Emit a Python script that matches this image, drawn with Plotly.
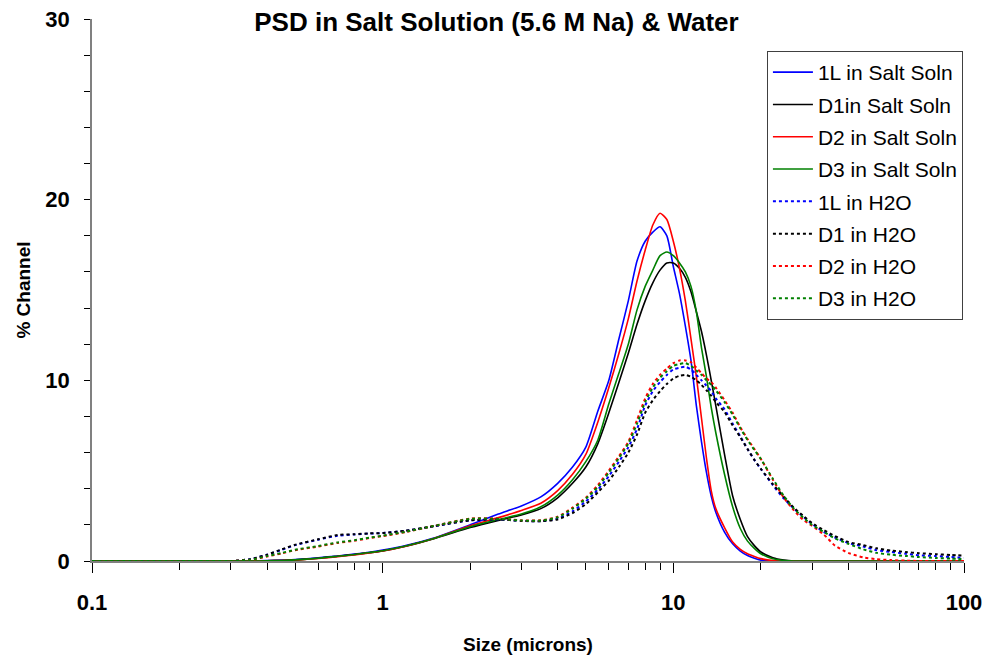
import plotly.graph_objects as go

sizes = [0.1, 0.2, 0.3, 0.35, 0.4, 0.45, 0.5, 0.6, 0.7, 0.8, 0.9, 1.0, 1.2, 1.5, 2.0, 2.5, 3.0, 3.5,
         4.0, 4.5, 5.0, 5.5, 6.0, 6.5, 7.0, 7.5, 8.0, 8.5, 9.0, 9.5, 10, 10.5, 11, 11.5, 12, 12.5,
         13, 13.5, 14, 15, 16, 17, 18, 19, 20, 22, 24, 26, 28, 30, 33, 36, 40, 45, 50, 56, 63, 70,
         80, 90, 100]

salt_1L = [0, 0, 0, 0, 0.02, 0.05, 0.08, 0.18, 0.28, 0.38, 0.48, 0.6, 0.85, 1.27, 2.0, 2.6, 3.05, 3.55,
           4.3, 5.2, 6.3, 8.3, 10.0, 12.3, 14.4, 16.6, 17.7, 18.2, 18.5, 18.0, 16.3, 14.8, 13.0, 11.1, 8.6, 6.6,
           4.9, 3.6, 2.7, 1.6, 0.95, 0.55, 0.3, 0.15, 0.05, 0.01, 0, 0, 0, 0, 0, 0, 0, 0, 0, 0, 0, 0,
           0, 0, 0]
salt_D1 = [0, 0, 0, 0, 0.01, 0.03, 0.06, 0.15, 0.26, 0.36, 0.46, 0.56, 0.82, 1.23, 1.85, 2.25, 2.55, 2.9,
           3.5, 4.3, 5.2, 6.5, 8.2, 9.9, 11.5, 13.1, 14.4, 15.4, 16.1, 16.5, 16.5, 16.2, 15.7, 14.9, 13.8, 12.7,
           11.4, 10.0, 8.6, 5.9, 3.6, 2.3, 1.35, 0.85, 0.5, 0.18, 0.05, 0, 0, 0, 0, 0, 0, 0, 0, 0, 0, 0,
           0, 0, 0]
salt_D2 = [0, 0, 0, 0, 0.01, 0.03, 0.05, 0.14, 0.24, 0.34, 0.45, 0.55, 0.82, 1.25, 1.95, 2.4, 2.8, 3.2,
           3.9, 4.8, 5.9, 7.7, 9.6, 11.5, 13.4, 15.5, 17.2, 18.6, 19.25, 18.9, 17.7, 16.2, 14.4, 12.3, 10.2, 7.9,
           5.7, 3.9, 2.9, 1.85, 1.05, 0.65, 0.4, 0.25, 0.13, 0.02, 0, 0, 0, 0, 0, 0, 0, 0, 0, 0, 0, 0,
           0, 0, 0]
salt_D3 = [0, 0, 0, 0, 0.01, 0.03, 0.06, 0.15, 0.26, 0.36, 0.47, 0.57, 0.83, 1.25, 1.9, 2.3, 2.6, 3.0,
           3.65, 4.5, 5.5, 6.7, 8.7, 10.4, 12.0, 13.9, 15.2, 16.1, 16.9, 17.1, 16.9, 16.5, 16.0, 15.2, 13.8, 11.8,
           10.2, 8.5, 7.1, 4.8, 3.0, 1.8, 1.1, 0.7, 0.4, 0.12, 0.03, 0, 0, 0, 0, 0, 0, 0, 0, 0, 0, 0,
           0, 0, 0]

h2o_1L = [0, 0, 0, 0.1, 0.35, 0.62, 0.88, 1.18, 1.4, 1.47, 1.52, 1.55, 1.67, 1.92, 2.25, 2.3, 2.22, 2.2,
          2.35, 2.75, 3.3, 3.95, 4.7, 5.5, 6.3, 7.3, 8.6, 9.4, 9.9, 10.3, 10.6, 10.7, 10.75, 10.6, 10.3, 10.0,
          9.7, 9.4, 9.0, 8.4, 7.6, 6.9, 6.2, 5.6, 5.1, 4.2, 3.45, 2.9, 2.45, 2.05, 1.6, 1.3, 1.0, 0.8, 0.6, 0.5,
          0.4, 0.32, 0.27, 0.22, 0.18]
h2o_D1 = [0, 0, 0, 0.1, 0.35, 0.65, 0.9, 1.2, 1.44, 1.48, 1.53, 1.55, 1.68, 1.93, 2.25, 2.3, 2.22, 2.2,
          2.3, 2.65, 3.15, 3.8, 4.45, 5.2, 6.0, 7.0, 8.2, 8.9, 9.4, 9.8, 10.1, 10.25, 10.3, 10.2, 10.0, 9.75,
          9.45, 9.15, 8.8, 8.25, 7.5, 6.85, 6.2, 5.6, 5.1, 4.25, 3.55, 2.95, 2.5, 2.1, 1.7, 1.38, 1.05, 0.88, 0.7,
          0.58, 0.5, 0.43, 0.38, 0.33, 0.3]
h2o_D2 = [0, 0, 0, 0.05, 0.25, 0.42, 0.6, 0.8, 1.0, 1.12, 1.27, 1.38, 1.6, 1.94, 2.35, 2.35, 2.25, 2.25,
          2.45, 2.95, 3.5, 4.2, 5.0, 5.8, 6.6, 7.8, 9.0, 9.8, 10.3, 10.65, 10.95, 11.1, 11.1, 11.0, 10.7, 10.4,
          10.1, 9.9, 9.6, 8.9, 8.2, 7.4, 6.75, 6.2, 5.65, 4.5, 3.5, 2.8, 2.27, 1.95, 1.45, 0.85, 0.45, 0.2, 0.1,
          0.05, 0.02, 0, 0, 0, 0]
h2o_D3 = [0, 0, 0, 0.06, 0.27, 0.45, 0.62, 0.83, 1.03, 1.15, 1.29, 1.4, 1.62, 1.94, 2.33, 2.33, 2.24, 2.24,
          2.42, 2.9, 3.45, 4.1, 4.9, 5.7, 6.5, 7.6, 8.8, 9.6, 10.15, 10.5, 10.8, 10.9, 10.95, 10.8, 10.55, 10.3,
          10.0, 9.75, 9.45, 8.8, 8.1, 7.35, 6.7, 6.15, 5.65, 4.55, 3.6, 2.9, 2.4, 2.0, 1.6, 1.25, 0.95, 0.65, 0.45,
          0.35, 0.28, 0.22, 0.17, 0.13, 0.1]

series = [
    ("1L in Salt Soln", salt_1L, "#0000FF", "solid", 1.6),
    ("D1in Salt Soln", salt_D1, "#000000", "solid", 1.6),
    ("D2 in Salt Soln", salt_D2, "#FF0000", "solid", 1.6),
    ("D3 in Salt Soln", salt_D3, "#008000", "solid", 1.6),
    ("1L in H2O", h2o_1L, "#0000FF", "dot", 2),
    ("D1 in H2O", h2o_D1, "#000000", "dot", 2),
    ("D2 in H2O", h2o_D2, "#FF0000", "dot", 2),
    ("D3 in H2O", h2o_D3, "#008000", "dot", 2),
]

FONT = "Liberation Sans, Arial"

fig = go.Figure()
for i, (name, vals, col, dash, w) in enumerate(series):
    fig.add_trace(go.Scatter(
        x=sizes, y=vals, name=name, mode="lines", legendgroup=f"g{i}",
        line=dict(color=col, dash=dash, width=w, shape="spline", smoothing=0.6),
    ))

minor_vals = [m * d for d in (0.1, 1, 10) for m in range(2, 10)]

fig.update_layout(
    width=987, height=661,
    margin=dict(l=92, r=23, t=19, b=100, autoexpand=False),
    paper_bgcolor="white", plot_bgcolor="white",
    font=dict(family=FONT, color="black"),
    title=dict(text="<b>PSD in Salt Solution (5.6 M Na) & Water</b>", x=0.503, xanchor="center",
               y=0.967, yanchor="middle", font=dict(size=26, family=FONT)),
    showlegend=True,
    legend=dict(x=0.774, y=0.941, xanchor="left", yanchor="top",
                bordercolor="#404040", borderwidth=1, bgcolor="white",
                font=dict(size=21, family=FONT), tracegroupgap=2,
                itemwidth=40),
    xaxis=dict(type="log", range=[-1, 2], showgrid=False, zeroline=False, automargin=False,
               showline=True, linecolor="#808080", linewidth=2,
               ticks="outside", ticklen=10, tickcolor="black", tickwidth=1,
               tickvals=[0.1, 1, 10, 100], ticktext=["<b>0.1</b>", "<b>1</b>", "<b>10</b>", "<b>100</b>"],
               tickfont=dict(size=22, family=FONT), ticklabelstandoff=11,
               minor=dict(tickvals=minor_vals, ticks="outside", ticklen=7, tickcolor="black", tickwidth=1),
               title=dict(text="<b>Size (microns)</b>", font=dict(size=19, family=FONT), standoff=23)),
    yaxis=dict(range=[0, 30], showgrid=False, zeroline=False, automargin=False,
               showline=True, linecolor="#808080", linewidth=1.5,
               ticks="outside", ticklen=6, tickcolor="black", tickwidth=1,
               tickvals=[0, 10, 20, 30], ticktext=["<b>0</b>", "<b>10</b>", "<b>20</b>", "<b>30</b>"],
               tickfont=dict(size=22, family=FONT), ticklabelstandoff=10,
               minor=dict(dtick=2, ticks="outside", ticklen=6, tickcolor="black", tickwidth=1),
               title=dict(text="<b>% Channel</b>", font=dict(size=19, family=FONT), standoff=10)),
)

fig.write_html("out.html")
